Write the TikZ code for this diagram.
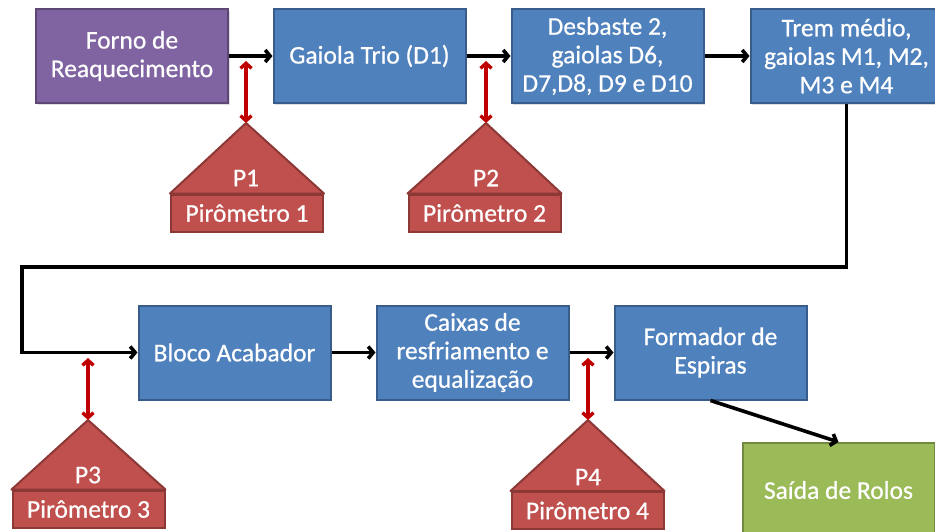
\documentclass[tikz,border=0pt]{standalone}
\usepackage{fontspec}
\setmainfont{Carlito}[FakeBold=0.6]
\usetikzlibrary{arrows.meta,shadows}

\definecolor{procfill}{HTML}{4F81BD}
\definecolor{procedge}{HTML}{385D8A}
\definecolor{furnfill}{HTML}{8064A2}
\definecolor{furnedge}{HTML}{5C4776}
\definecolor{outfill}{HTML}{9BBB59}
\definecolor{outedge}{HTML}{71893F}
\definecolor{pyrfill}{HTML}{C0504D}
\definecolor{pyredge}{HTML}{8C3836}
\definecolor{sensor}{HTML}{C00000}

\tikzset{
  txt/.style={text=white, font=\fontsize{25.5}{28.5}\selectfont},
  stage/.style={rectangle, draw=procedge, fill=procfill, line width=2pt,
    minimum width=192pt, minimum height=94pt, inner sep=0pt, txt, align=center,
    drop shadow={shadow xshift=1.5pt, shadow yshift=-1.5pt, opacity=0.25}},
  furnace/.style={stage, draw=furnedge, fill=furnfill},
  exitbox/.style={stage, draw=outedge, fill=outfill},
  pyrbox/.style={rectangle, draw=pyredge, fill=pyrfill, line width=2pt,
    minimum width=152pt, minimum height=37pt, inner sep=0pt, txt},
  pyrtri/.style={draw=pyredge, fill=pyrfill, line width=2pt, line join=round},
  pyrlabel/.style={inner sep=0pt, txt},
  flow/.style={draw=black, line width=3.6pt,
    -{Straight Barb[length=5pt, width=12pt]}},
  link/.style={draw=black, line width=3.6pt},
  probe/.style={draw=sensor, line width=3.4pt,
    {Straight Barb[length=5pt, width=11pt]}-{Straight Barb[length=5pt, width=11pt]}}
}

\begin{document}
\begin{tikzpicture}[x=1pt, y=-1pt]
  \clip (0,0) rectangle (935,531);
  \fill[white] (0,0) rectangle (935,531);

  % upper line of stands
  \node[furnace] (forno) at (132,56) {Forno de\\Reaquecimento};
  \node[stage] (trio) at (369.5,56) {Gaiola Trio (D1)};
  \node[stage] (desb) at (607.5,56) {Desbaste 2,\\gaiolas D6,\\D7,D8, D9 e D10};
  \node[stage] (trem) at (846.5,56) {Trem médio,\\gaiolas M1, M2,\\M3 e M4};

  % lower line of stands
  \node[stage] (bloco) at (234.5,352.5) {Bloco Acabador};
  \node[stage] (caixas) at (472.5,352.5) {Caixas de\\resfriamento e\\equalização};
  \node[stage] (espiras) at (710.5,352.5) {Formador de\\Espiras};
  \node[exitbox] (saida) at (838.5,490) {Saída de Rolos};

  % material flow
  \draw[flow] (forno) -- (trio);
  \draw[flow] (trio) -- (desb);
  \draw[flow] (desb) -- (trem);
  \coordinate (loopR) at (846.5,267);
  \coordinate (loopL) at (22,267);
  \draw[link, line join=miter] (trem.south) -- (loopR) -- (loopL) -- ++(0,86);
  \draw[flow] (20.2,352.5) -- (bloco.west);
  \draw[flow] (bloco) -- (caixas);
  \draw[flow] (caixas) -- (espiras);
  \draw[flow] (espiras.south) -- (saida.north);

  % pyrometers: tag box, triangular head and measuring arrow
  \foreach \n/\x/\ax/\yr/\ya/\yt/\yl in {1/247/246/213/123/61/178, 2/484.5/486/213/123/61/178,
                                      3/88.5/88/509/420/358/475, 4/587.5/588/510.5/420/358/477}{
    \node[pyrbox] (pyr\n) at (\x,\yr) {Pirômetro \n};
    \coordinate (apex\n) at (\ax,\ya);
    \coordinate (tap\n) at (\ax,\yt);
    \draw[pyrtri] (pyr\n.north west) -- (apex\n) -- (pyr\n.north east) -- cycle;
    \node[pyrlabel] (tag\n) at (\ax,\yl) {P\n};
    \draw[probe] (tap\n) -- (apex\n);
  }
\end{tikzpicture}
\end{document}
